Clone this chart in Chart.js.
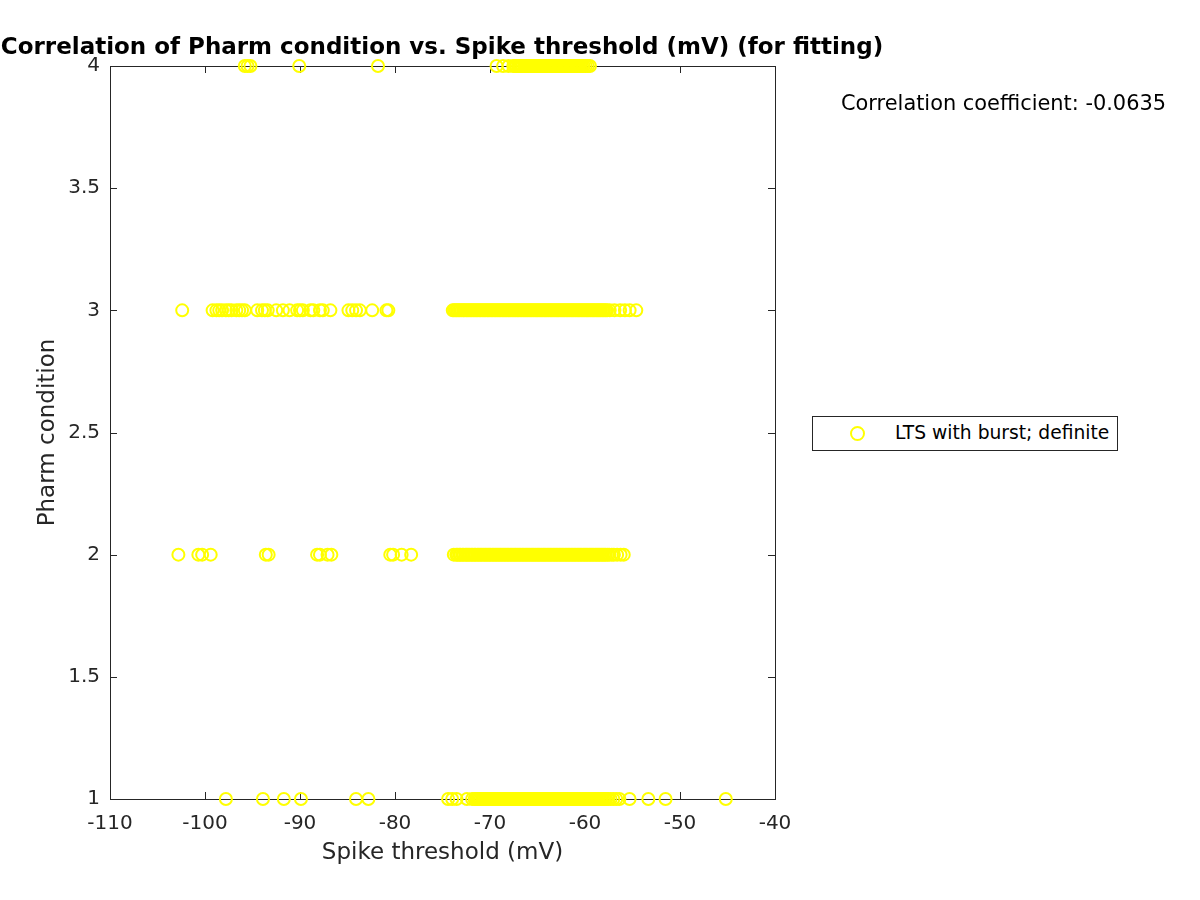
<!DOCTYPE html>
<html>
<head>
<meta charset="utf-8">
<script src="https://cdn.jsdelivr.net/npm/chart.js@4.4.1/dist/chart.umd.min.js"></script>
<style>
  body { margin: 0; background: #fff; font-family: "DejaVu Sans", sans-serif; }
  #wrap { position: relative; width: 1200px; height: 900px; }
  #title { position: absolute; left: 0; width: 884px; top: 33px; text-align: center;
           font-weight: bold; font-size: 23px; color: #000; white-space: nowrap; }
  #corr { position: absolute; left: 841px; top: 91px; font-size: 20.9px; color: #000; white-space: nowrap; }
  #legend { position: absolute; left: 812px; top: 416px; width: 304px; height: 33px;
            border: 1px solid #262626; background: #fff; }
  #legend .mk { position: absolute; left: 37px; top: 9px; width: 11px; height: 11px;
                border: 2px solid #ffff00; border-radius: 50%; }
  #legend .tx { position: absolute; left: 82px; top: 5px; font-size: 18.7px; color: #000; white-space: nowrap; }
</style>
</head>
<body>
<div id="wrap">
  <canvas id="chart" width="1200" height="900"></canvas>
  <div id="title">Correlation of Pharm condition vs. Spike threshold (mV) (for fitting)</div>
  <div id="corr">Correlation coefficient: -0.0635</div>
  <div id="legend"><span class="mk"></span><span class="tx">LTS with burst; definite</span></div>
</div>
<script>
// spike thresholds (mV) for each pharm condition
const thrCond1 = [-97.8, -93.9, -91.7, -89.9, -84.1, -82.8, -74.41, -73.98, -73.52, -72.43,
  -71.88, -71.62, -71.47, -71.31, -71.15, -70.99, -70.84, -70.68, -70.52, -70.36, -70.21,
  -70.05, -69.89, -69.73, -69.58, -69.42, -69.26, -69.10, -68.95, -68.79, -68.63, -68.47,
  -68.32, -68.16, -68.00, -67.84, -67.69, -67.53, -67.37, -67.21, -67.06, -66.90, -66.74,
  -66.58, -66.43, -66.27, -66.11, -65.95, -65.80, -65.64, -65.48, -65.32, -65.17, -65.01,
  -64.85, -64.69, -64.54, -64.38, -64.22, -64.06, -63.91, -63.75, -63.59, -63.43, -63.28,
  -63.12, -62.96, -62.80, -62.65, -62.49, -62.33, -62.17, -62.02, -61.86, -61.70, -61.54,
  -61.39, -61.23, -61.07, -60.91, -60.76, -60.60, -60.44, -60.28, -60.13, -59.97, -59.81,
  -59.65, -59.50, -59.34, -59.18, -59.02, -58.87, -58.71, -58.55, -58.39, -58.24, -58.08,
  -57.92, -57.76, -57.55, -57.31, -57.02, -56.71, -56.38, -55.31, -53.33, -51.52, -45.18];
const thrCond2 = [-102.8, -100.7, -100.3, -99.4, -93.6, -93.3, -88.2, -87.9, -87.1, -86.7,
  -80.5, -80.2, -79.3, -78.3, -73.81, -73.55, -73.40, -73.22, -73.09, -72.91, -72.77, -72.58,
  -72.44, -72.29, -72.13, -71.96, -71.82, -71.64, -71.51, -71.33, -71.18, -71.02, -70.87,
  -70.71, -70.54, -70.40, -70.23, -70.08, -69.93, -69.76, -69.61, -69.45, -69.29, -69.14,
  -68.97, -68.83, -68.66, -68.51, -68.35, -68.19, -68.04, -67.88, -67.72, -67.57, -67.40,
  -67.26, -67.09, -66.94, -66.78, -66.62, -66.47, -66.31, -66.15, -66.00, -65.84, -65.68,
  -65.52, -65.37, -65.21, -65.05, -64.90, -64.74, -64.58, -64.42, -64.27, -64.11, -63.95,
  -63.79, -63.64, -63.48, -63.32, -63.16, -63.01, -62.85, -62.69, -62.53, -62.38, -62.22,
  -62.06, -61.90, -61.75, -61.59, -61.43, -61.27, -61.12, -60.96, -60.80, -60.64, -60.49,
  -60.33, -60.17, -60.01, -59.86, -59.70, -59.54, -59.38, -59.23, -59.07, -58.91, -58.75,
  -58.60, -58.44, -58.28, -58.12, -57.97, -57.81, -57.62, -57.45, -57.18, -56.96, -56.62,
  -56.25, -55.92];
const thrCond3 = [-102.4, -99.2, -98.8, -98.5, -98.2, -97.8, -97.5, -97.2, -96.7, -96.4,
  -96.1, -95.8, -94.5, -94.0, -93.7, -93.4, -92.5, -91.8, -91.1, -90.3, -90.0, -89.7, -88.9,
  -88.6, -87.9, -87.6, -86.8, -84.9, -84.5, -84.1, -83.7, -82.4, -80.9, -80.7,
  -73.92, -73.78, -73.61, -73.47, -73.30, -73.16, -72.99, -72.83, -72.70, -72.52, -72.38,
  -72.21, -72.05, -71.90, -71.74, -71.58, -71.43, -71.27, -71.10, -70.96, -70.79, -70.63,
  -70.48, -70.31, -70.17, -70.00, -69.84, -69.69, -69.52, -69.37, -69.21, -69.05, -68.90,
  -68.73, -68.58, -68.42, -68.26, -68.10, -67.95, -67.79, -67.62, -67.47, -67.31, -67.15,
  -67.00, -66.84, -66.68, -66.52, -66.37, -66.21, -66.05, -65.89, -65.73, -65.58, -65.42,
  -65.26, -65.10, -64.95, -64.79, -64.63, -64.47, -64.31, -64.16, -64.00, -63.84, -63.68,
  -63.53, -63.37, -63.21, -63.05, -62.89, -62.74, -62.58, -62.42, -62.26, -62.11, -61.95,
  -61.79, -61.63, -61.47, -61.32, -61.16, -61.00, -60.84, -60.68, -60.53, -60.37, -60.21,
  -60.05, -59.89, -59.74, -59.58, -59.42, -59.26, -59.11, -58.95, -58.79, -58.63, -58.47,
  -58.32, -58.16, -58.00, -57.84, -57.68, -57.40, -56.9, -56.3, -55.8, -55.3, -54.6];
const thrCond4 = [-95.81, -95.52, -95.22, -90.08, -81.79, -69.31, -68.62, -68.05, -67.55,
  -67.38, -67.22, -67.06, -66.90, -66.75, -66.59, -66.43, -66.27, -66.12, -65.96, -65.80,
  -65.64, -65.49, -65.33, -65.17, -65.01, -64.86, -64.70, -64.54, -64.38, -64.23, -64.07,
  -63.91, -63.75, -63.60, -63.44, -63.28, -63.12, -62.97, -62.81, -62.65, -62.49, -62.34,
  -62.18, -62.02, -61.86, -61.71, -61.55, -61.39, -61.23, -61.08, -60.92, -60.76, -60.60,
  -60.45, -60.29, -60.13, -59.92, -59.70, -59.48];
const conditions = [1, 2, 3, 4];
const xTicks = [-110, -100, -90, -80, -70, -60, -50, -40];
const yTicks = [1, 1.5, 2, 2.5, 3, 3.5, 4];

const points = [];
[thrCond1, thrCond2, thrCond3, thrCond4].forEach((arr, i) => {
  arr.forEach(v => points.push({ x: v, y: conditions[i] }));
});

const axisColor = '#262626';

// MATLAB-like box with inward ticks on all four sides
const boxPlugin = {
  id: 'matlabBox',
  beforeDatasetsDraw(chart) {
    const { ctx, chartArea: a, scales } = chart;
    const len = 7;
    ctx.save();
    ctx.strokeStyle = axisColor;
    ctx.lineWidth = 1;
    ctx.strokeRect(a.left + 0.5, a.top + 0.5, a.right - a.left, a.bottom - a.top);
    ctx.beginPath();
    xTicks.forEach(t => {
      const px = Math.round(scales.x.getPixelForValue(t)) + 0.5;
      ctx.moveTo(px, a.bottom); ctx.lineTo(px, a.bottom - len);
      ctx.moveTo(px, a.top); ctx.lineTo(px, a.top + len);
    });
    yTicks.forEach(t => {
      const py = Math.round(scales.y.getPixelForValue(t)) + 0.5;
      ctx.moveTo(a.left, py); ctx.lineTo(a.left + len, py);
      ctx.moveTo(a.right, py); ctx.lineTo(a.right - len, py);
    });
    ctx.stroke();
    ctx.restore();
  }
};

new Chart(document.getElementById('chart'), {
  type: 'scatter',
  data: {
    datasets: [{
      label: 'LTS with burst; definite',
      data: points,
      borderColor: '#ffff00',
      backgroundColor: 'rgba(0,0,0,0)',
      pointRadius: 6,
      pointBorderWidth: 2,
      clip: false
    }]
  },
  options: {
    responsive: false,
    animation: false,
    layout: { padding: { left: 0, right: 425, top: 66, bottom: 0 } },
    plugins: { legend: { display: false }, tooltip: { enabled: false } },
    scales: {
      x: {
        type: 'linear',
        min: -110, max: -40,
        afterBuildTicks: s => { s.ticks = xTicks.map(v => ({ value: v })); },
        afterFit: s => { s.height = 101; },
        grid: { display: false, drawTicks: false },
        border: { display: false },
        ticks: { color: axisColor, font: { family: 'DejaVu Sans', size: 20 }, padding: 13,
                 callback: v => String(v) },
        title: { display: true, text: 'Spike threshold (mV)', color: axisColor,
                 font: { family: 'DejaVu Sans', size: 23 }, padding: { bottom: 33 } }
      },
      y: {
        type: 'linear',
        min: 1, max: 4,
        afterBuildTicks: s => { s.ticks = yTicks.map(v => ({ value: v })); },
        afterFit: s => { s.width = 110; },
        grid: { display: false, drawTicks: false },
        border: { display: false },
        ticks: { color: axisColor, font: { family: 'DejaVu Sans', size: 20 }, padding: 10,
                 callback: v => String(v) },
        title: { display: true, text: 'Pharm condition', color: axisColor,
                 font: { family: 'DejaVu Sans', size: 23 }, padding: { top: 34 } }
      }
    }
  },
  plugins: [boxPlugin]
});
</script>
</body>
</html>
